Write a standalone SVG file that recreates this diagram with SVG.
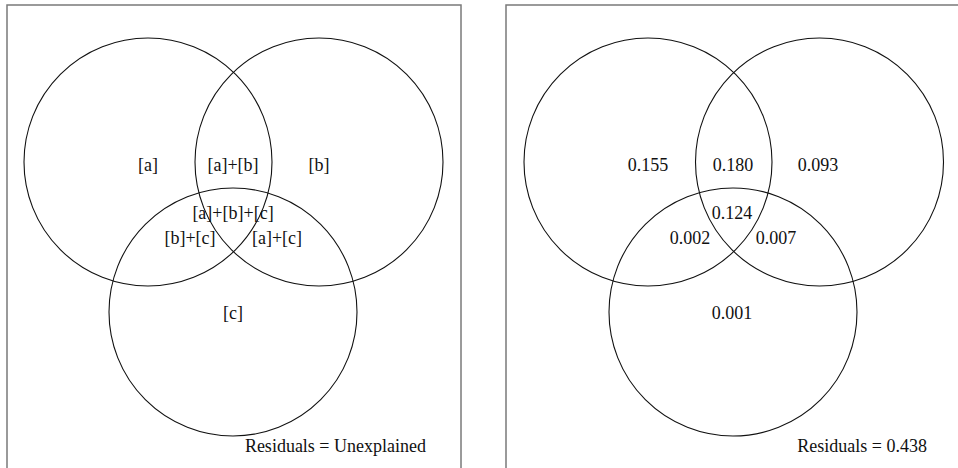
<svg xmlns="http://www.w3.org/2000/svg" width="958" height="468" viewBox="0 0 958 468">
<style>
.frame{fill:none;stroke:#7a7a7a;stroke-width:1.5}
.c{fill:none;stroke:#111;stroke-width:1.1}
text{font-family:"Liberation Serif","Times New Roman",serif;font-size:18px;fill:#111;text-anchor:middle}
.r{text-anchor:end}
</style>
<rect width="958" height="468" fill="#fff"/>
<g id="panel-left">
<rect class="frame" x="7" y="5" width="454" height="470"/>
<g id="left-circle-a"><circle class="c" cx="148" cy="162" r="124"/></g>
<g id="left-circle-b"><circle class="c" cx="319" cy="162" r="124"/></g>
<g id="left-circle-c"><circle class="c" cx="233" cy="312" r="124"/></g>
<text x="148" y="171">[a]</text>
<text x="233" y="171">[a]+[b]</text>
<text x="319" y="171">[b]</text>
<text x="233" y="219">[a]+[b]+[c]</text>
<text x="190" y="244">[b]+[c]</text>
<text x="277" y="244">[a]+[c]</text>
<text x="233" y="319">[c]</text>
<text class="r" x="426" y="452">Residuals = Unexplained</text>
</g>
<g id="panel-right">
<rect class="frame" x="506" y="5" width="470" height="470"/>
<g id="right-circle-a"><circle class="c" cx="648" cy="162" r="124"/></g>
<g id="right-circle-b"><circle class="c" cx="819.5" cy="162" r="124"/></g>
<g id="right-circle-c"><circle class="c" cx="733" cy="312" r="124"/></g>
<text x="648" y="171">0.155</text>
<text x="733" y="171">0.180</text>
<text x="818" y="171">0.093</text>
<text x="732" y="219">0.124</text>
<text x="690" y="244">0.002</text>
<text x="776" y="244">0.007</text>
<text x="732" y="319">0.001</text>
<text class="r" x="927" y="452">Residuals = 0.438</text>
</g>
</svg>
